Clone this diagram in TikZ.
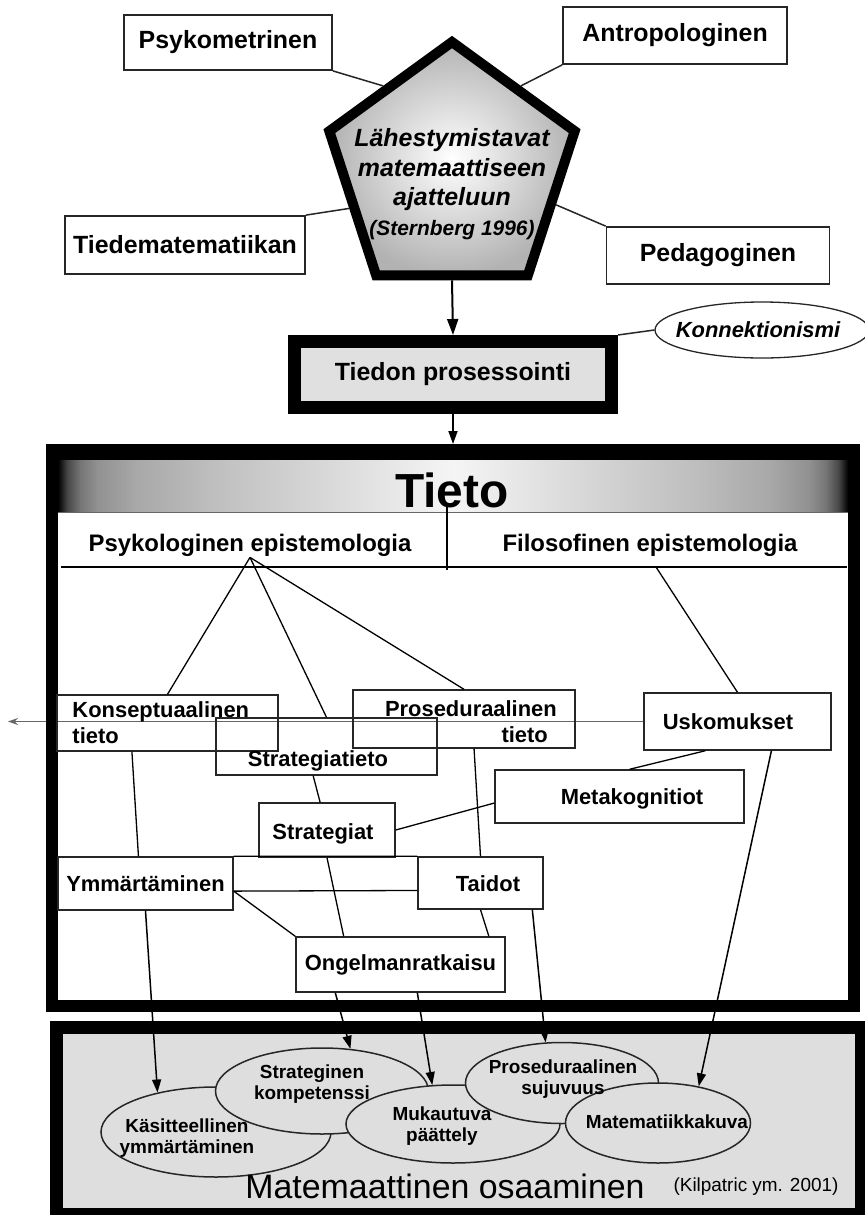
\documentclass[tikz,border=0pt]{standalone}
\usepackage{fontspec}
\setmainfont{Liberation Sans}
\usetikzlibrary{shapes.geometric,arrows.meta,calc}
\pgfdeclarelayer{bg}
\pgfsetlayers{bg,main}
\pgfdeclarehorizontalshading{tietoshade}{100bp}{color(0bp)=(black); color(25bp)=(black); color(25.6bp)=(black!72); color(26.4bp)=(black!54); color(27.5bp)=(black!43); color(30bp)=(black!34); color(35bp)=(black!25); color(50bp)=(black!4); color(65bp)=(black!25); color(70bp)=(black!34); color(72.5bp)=(black!43); color(73.6bp)=(black!54); color(74.4bp)=(black!72); color(75bp)=(black); color(100bp)=(black)}
\begin{document}
\begin{tikzpicture}[x=1bp,y=-1bp,
  box/.style={draw=black!85, line width=1.8bp, fill=white, inner sep=0pt, font=\bfseries\fontsize{25}{30}\selectfont},
  ibox/.style={draw=black!85, line width=1.4bp, inner sep=0pt, font=\bfseries\fontsize{22}{26}\selectfont},
  ifont/.style={inner sep=0pt, font=\bfseries\fontsize{22}{26}\selectfont},
  conn/.style={draw=black!85, line width=1.5bp},
  thinline/.style={draw=black, line width=1.3bp},
  bigarrow/.style={line width=2bp, -{Triangle[length=16bp,width=11bp]}},
  ellarrow/.style={line width=1.5bp, -{Triangle[length=13bp,width=9bp]}},
  ell/.style={ellipse, draw=black!85, line width=1.5bp, fill=black!13, inner sep=0pt},
  elltext/.style={font=\bfseries\fontsize{19}{21}\selectfont, align=center, inner sep=0pt}]
\useasboundingbox (0,0) rectangle (865,1215);

% ---------- top: approaches ----------
\node[box, minimum width=208bp, minimum height=55bp] (psy) at (228,42.5) {Psykometrinen};
\node[box, minimum width=224bp, minimum height=57bp] (ant) at (675,35.5) {Antropologinen};
\node[box, minimum width=240bp, minimum height=58bp] (tie) at (185,245) {Tiedematematiikan};
\node[box, minimum width=223bp, minimum height=57bp] (ped) at (718,255.5) {Pedagoginen};

\node[regular polygon, regular polygon sides=5, minimum size=258bp, inner sep=0pt,
      draw=black, line width=10bp, inner color=white, outer color=black!30] (pent) at (452,171) {};
\node[font=\bfseries\itshape\fontsize{25}{29.6}\selectfont, align=center, inner sep=0pt] (ptext) at (452,184)
  {Lähestymistavat\\matemaattiseen\\ajatteluun\\{\fontsize{21}{29.6}\selectfont(Sternberg 1996)}};

\draw[conn] (psy.south east) -- (pent.129);
\draw[conn] (ant.south west) -- (pent.51);
\draw[conn] (tie.north east) -- (pent.200);
\draw[conn] (ped.north west) -- (pent.342);

% ---------- information processing ----------
\node[draw=black, line width=13bp, fill=black!12, minimum width=317bp, minimum height=66bp, inner sep=0pt,
      font=\bfseries\fontsize{25}{30}\selectfont] (tp) at (453,374.5) {Tiedon prosessointi};
\draw[bigarrow] (pent.south) -- (tp.north);

\node[ellipse, draw=black!85, line width=1.3bp, fill=white, minimum width=214bp, minimum height=56bp, inner sep=0pt] (kon) at (762,330) {};
\node[inner sep=0pt, font=\bfseries\itshape\fontsize{22}{26}\selectfont] (kon-l) at (758,330) {Konnektionismi};
\draw[conn] (tp.north east) -- (kon.west);

% ---------- Tieto box ----------
\node[draw=black, line width=12bp, minimum width=802bp, minimum height=556bp, inner sep=0pt] (tietobox) at (453,728) {};
\draw[line width=1.8bp, -{Triangle[length=13bp,width=9bp]}] (tp.south) -- (tietobox.north);
\fill[black] (58,455) rectangle (848,461);
\shade[shading=tietoshade] (58,460) rectangle (848,512);
\draw[black!60, line width=1bp] (58,512) -- (848,512);
\node[font=\bfseries\fontsize{48}{56}\selectfont, inner sep=0pt] (title) at (452,490) {Tieto};

\coordinate (vl-n) at (447,507);
\coordinate (vl-s) at (447,570);
\coordinate (hl-w) at (61,567);
\coordinate (hl-e) at (847,567);
\draw[thinline] (vl-n) -- (vl-s);
\draw[thinline] (hl-w) -- (hl-e);

\node[font=\bfseries\fontsize{24}{28}\selectfont, inner sep=1bp] (pe) at (250,545) {Psykologinen epistemologia};
\node[font=\bfseries\fontsize{24}{28}\selectfont, inner sep=1bp] (fe) at (650,545) {Filosofinen epistemologia};
\coordinate (fe-foot) at (656,567);

% inner boxes
\node[ibox, minimum width=221bp, minimum height=56bp, text width=190bp, align=left] (kt) at (167.5,723) {Konseptuaalinen\\tieto};
\node[ibox, minimum width=221bp, minimum height=57bp] (st) at (326.5,746.5) {};
\node[ifont] (st-l) at (318,761) {Strategiatieto};
\node[ibox, minimum width=222bp, minimum height=58bp] (pt) at (464,719) {};
\node[ifont, anchor=base east] (pt-l1) at (557,716) {Proseduraalinen};
\node[ifont, anchor=base east] (pt-l2) at (548,742) {tieto};
\node[ibox, minimum width=187bp, minimum height=57bp] (us) at (737.5,721.5) {};
\node[ifont] (us-l) at (728,722) {Uskomukset};
\node[ibox, minimum width=249bp, minimum height=53bp] (mk) at (619.5,796.5) {};
\node[ifont] (mk-l) at (632,799) {Metakognitiot};
\node[ibox, minimum width=136bp, minimum height=54bp] (sg) at (327,830) {};
\node[ifont] (sg-l) at (323,834) {Strategiat};
\node[ibox, minimum width=175bp, minimum height=53bp] (ym) at (145.5,883.5) {Ymmärtäminen};
\node[ibox, minimum width=125bp, minimum height=52bp] (ta) at (480.5,883) {};
\node[ifont] (ta-l) at (488,884) {Taidot};
\node[ibox, minimum width=209bp, minimum height=55bp] (og) at (400.5,964.5) {Ongelmanratkaisu};

% connectors inside Tieto
\draw[thinline] (pe.south) -- (kt.north);
\draw[thinline] (pe.south) -- (st.north);
\draw[thinline] (pe.south) -- (pt.north);
\draw[thinline] (fe-foot) -- (us.north);
\coordinate (leftend) at (8,721.5);
\begin{pgfonlayer}{bg}
\draw[black!60, line width=1.3bp, -{Stealth[length=10bp,width=7bp]}] (us.west) -- (leftend);
\end{pgfonlayer}
\draw[thinline] ($(us.south west)!0.33!(us.south east)$) -- ($(mk.north west)!0.54!(mk.north east)$);
\draw[thinline] ($(mk.north west)!0.62!(mk.south west)$) -- (sg.east);
\draw[thinline] ($(st.south west)!0.44!(st.south east)$) -- ($(sg.north west)!0.45!(sg.north east)$);
\draw[thinline] ($(kt.south west)!0.34!(kt.south east)$) -- ($(ym.north west)!0.46!(ym.north east)$);
\draw[thinline] ($(pt.south west)!0.545!(pt.south east)$) -- (ta.north);
\draw[thinline] (ym.north east) -- (ta.north west);
\draw[thinline] ($(ym.north east)!0.64!(ym.south east)$) -- ($(ta.north west)!0.64!(ta.south west)$);
\draw[thinline] ($(ym.north east)!0.64!(ym.south east)$) -- (og.north west);
\draw[thinline] (sg.south) -- ($(og.north west)!0.23!(og.north east)$);
\draw[thinline] (ta.south) -- ($(og.north west)!0.92!(og.north east)$);

% ---------- Matemaattinen osaaminen ----------
\node[draw=black, line width=13bp, fill=black!13, minimum width=805bp, minimum height=187bp, inner sep=0pt] (matbox) at (459,1121) {};
\node[ell, minimum width=230bp, minimum height=90bp] (ks) at (216,1132) {};
\node[ell, minimum width=213bp, minimum height=86bp] (sk) at (322,1091) {};
\node[ell, minimum width=214bp, minimum height=78bp] (mu) at (453,1124) {};
\node[ell, minimum width=193bp, minimum height=81bp] (ps) at (562,1083) {};
\node[ell, minimum width=185bp, minimum height=80bp] (ma) at (658,1123) {};
\node[elltext] (ks-l) at (187,1138) {Käsitteellinen\\ymmärtäminen};
\node[elltext] (sk-l) at (312,1084) {Strateginen\\kompetenssi};
\node[elltext] (mu-l) at (442,1126) {Mukautuva\\päättely};
\node[elltext] (ps-l) at (563,1079) {Proseduraalinen\\sujuvuus};
\node[elltext] (ma-l) at (667,1122) {Matematiikkakuva};
\node[font=\fontsize{34}{40}\selectfont, inner sep=0pt] (mo) at (445,1186) {Matemaattinen osaaminen};
\node[font=\fontsize{19}{22}\selectfont, inner sep=0pt] (kil) at (756,1187) {(Kilpatric ym. 2001)};

% arrows into competences
\draw[ellarrow] (ym.south) -- (ks.146);
\draw[ellarrow] ($(og.south west)!0.19!(og.south east)$) -- (sk.56);
\draw[ellarrow] ($(og.south west)!0.58!(og.south east)$) -- (mu.118);
\draw[ellarrow] ($(ta.south west)!0.91!(ta.south east)$) -- (ps.112);
\draw[ellarrow] ($(us.south west)!0.68!(us.south east)$) -- (ma.42);
\end{tikzpicture}
\end{document}
